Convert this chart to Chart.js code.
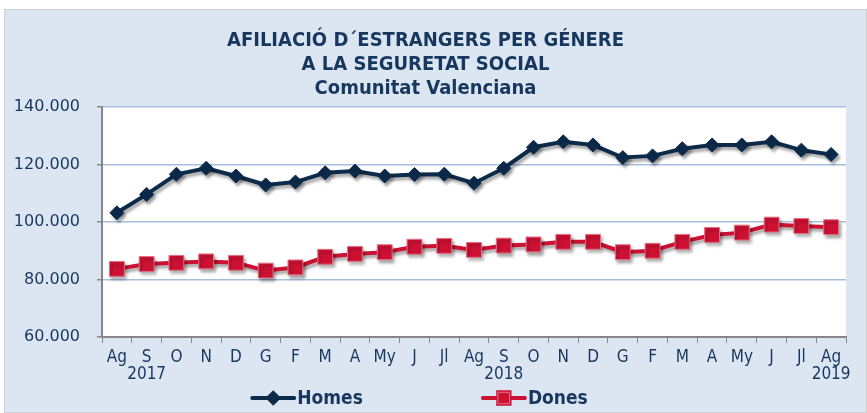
<!DOCTYPE html>
<html>
<head>
<meta charset="utf-8">
<script src="https://cdn.jsdelivr.net/npm/chart.js@4.4.1/dist/chart.umd.min.js"></script>
<style>
  html, body { margin: 0; padding: 0; background: #ffffff; }
  #panel {
    position: absolute; left: 4px; top: 9px;
    width: 863px; height: 404px;
    background: #dce6f2; border: 1px solid #d0d0d0; box-sizing: border-box;
  }
  #wrap { position: absolute; left: 0; top: 0; width: 862px; height: 403px; }
</style>
</head>
<body>
<div id="panel"><div id="wrap"><canvas id="chartCanvas"></canvas></div></div>
<script>
// Data
const months = ["Ag", "S", "O", "N", "D", "G", "F", "M", "A", "My", "J", "Jl",
                "Ag", "S", "O", "N", "D", "G", "F", "M", "A", "My", "J", "Jl", "Ag"];
const yearLabels = { 1: "2017", 13: "2018", 24: "2019" };

const homes = [103200, 109600, 116600, 118700, 116000, 112900, 113900, 117100, 117700, 116000, 116500, 116600,
               113500, 118700, 126000, 127900, 126800, 122400, 123000, 125500, 126800, 126800, 127900, 125000, 123500];
const dones = [83700, 85400, 85800, 86300, 85800, 83100, 84200, 87900, 88900, 89500, 91400, 91700,
               90300, 91800, 92200, 93100, 93100, 89500, 90000, 93100, 95500, 96300, 99100, 98600, 98200];

const yTicks = [60000, 80000, 100000, 120000, 140000];

const titleLines = ["AFILIACIÓ D´ESTRANGERS PER GÉNERE", "A LA SEGURETAT SOCIAL", "Comunitat Valenciana"];

// Colors
const navy = "#0c2b4b";
const red = "#cc1133";
const textColor = "#17375e";

const labels = months.map((m, i) => yearLabels[i] ? [m, yearLabels[i]] : m);

const fmt = v => v.toLocaleString("de-DE");

// White plot area
const plotBg = {
  id: "plotBg",
  beforeDraw(chart) {
    const a = chart.chartArea;
    const c = chart.ctx;
    c.save();
    c.fillStyle = "#ffffff";
    c.fillRect(a.left, a.top, a.right - a.left, a.bottom - a.top);
    c.restore();
  }
};

// Shadow on the series lines
const shadowPlugin = {
  id: "shadow",
  beforeDatasetDraw(chart) {
    const c = chart.ctx;
    c.save();
    c.shadowColor = "rgba(0,0,0,0.35)";
    c.shadowBlur = 3;
    c.shadowOffsetX = 2;
    c.shadowOffsetY = 3;
  },
  afterDatasetDraw(chart) {
    chart.ctx.restore();
  }
};

// Legend: line with marker, then bold name
const legendPlugin = {
  id: "lineLegend",
  afterDraw(chart) {
    const c = chart.ctx;
    const sets = chart.data.datasets;
    c.save();
    c.font = "bold 19px 'DejaVu Sans Condensed', 'DejaVu Sans', sans-serif";
    c.textBaseline = "middle";
    const symW = 42, gap = 3, itemGap = 120;
    const widths = sets.map(d => symW + gap + c.measureText(d.label).width);
    const total = widths.reduce((a, b) => a + b, 0) + itemGap * (sets.length - 1);
    let x = (chart.width - total) / 2 - 16;
    const y = chart.height - 15;
    sets.forEach((d, i) => {
      c.strokeStyle = d.borderColor;
      c.lineWidth = 4;
      c.lineCap = "round";
      c.beginPath();
      c.moveTo(x, y);
      c.lineTo(x + symW, y);
      c.stroke();
      Chart.helpers.drawPoint(c, {
        pointStyle: d.pointStyle,
        radius: d.pointStyle === "rect" ? 8 : 5,
        borderWidth: 1
      }, x + symW / 2, y);
      c.fillStyle = d.pointBackgroundColor;
      c.strokeStyle = d.pointBorderColor;
      c.lineWidth = 1;
      c.fill();
      c.stroke();
      c.fillStyle = textColor;
      c.fillText(d.label, x + symW + gap, y + 1);
      x += widths[i] + itemGap;
    });
    c.restore();
  }
};

const ctx = document.getElementById("chartCanvas").getContext("2d");

const chart = new Chart(ctx, {
  type: "line",
  data: {
    labels: labels,
    datasets: [
      {
        label: "Homes",
        data: homes,
        borderColor: navy,
        borderWidth: 4,
        pointStyle: "rectRot",
        pointRadius: 7,
        pointBackgroundColor: navy,
        pointBorderColor: navy,
        pointBorderWidth: 1,
        tension: 0
      },
      {
        label: "Dones",
        data: dones,
        borderColor: red,
        borderWidth: 4,
        pointStyle: "rect",
        pointRadius: 10.5,
        pointBackgroundColor: red,
        pointBorderColor: "#e07080",
        pointBorderWidth: 1,
        tension: 0
      }
    ]
  },
  options: {
    responsive: true,
    maintainAspectRatio: false,
    animation: false,
    layout: { padding: { left: 0, right: 21, top: 0, bottom: 28 } },
    plugins: {
      legend: { display: false },
      tooltip: { enabled: false },
      title: {
        display: true,
        text: titleLines,
        color: textColor,
        font: { family: "'DejaVu Sans Condensed', 'DejaVu Sans', sans-serif", size: 20, weight: "bold", lineHeight: 1.2 },
        padding: { top: 19, bottom: 6 }
      }
    },
    scales: {
      x: {
        offset: true,
        grid: {
          offset: true,
          drawOnChartArea: false,
          drawTicks: true,
          tickLength: 6,
          tickColor: "#868686"
        },
        border: { color: "#868686", width: 2 },
        ticks: {
          color: textColor,
          autoSkip: false,
          maxRotation: 0,
          padding: 7,
          font: { family: "'Liberation Sans Narrow', 'DejaVu Sans Condensed', sans-serif", size: 17, lineHeight: 0.95 }
        },
        afterFit(scale) { scale.height = 48; }
      },
      y: {
        min: 60000,
        max: 140000,
        afterBuildTicks(scale) { scale.ticks = yTicks.map(v => ({ value: v })); },
        grid: {
          color: "#a7bfdf",
          lineWidth: 1.5,
          drawTicks: true,
          tickLength: 5,
          tickColor: "#868686"
        },
        border: { color: "#868686", width: 2 },
        ticks: {
          color: textColor,
          padding: 17,
          font: { family: "'DejaVu Sans', sans-serif", size: 16 },
          callback: v => fmt(v)
        },
        afterFit(scale) { scale.width = 97; }
      }
    }
  },
  plugins: [plotBg, shadowPlugin, legendPlugin]
});
</script>
</body>
</html>
